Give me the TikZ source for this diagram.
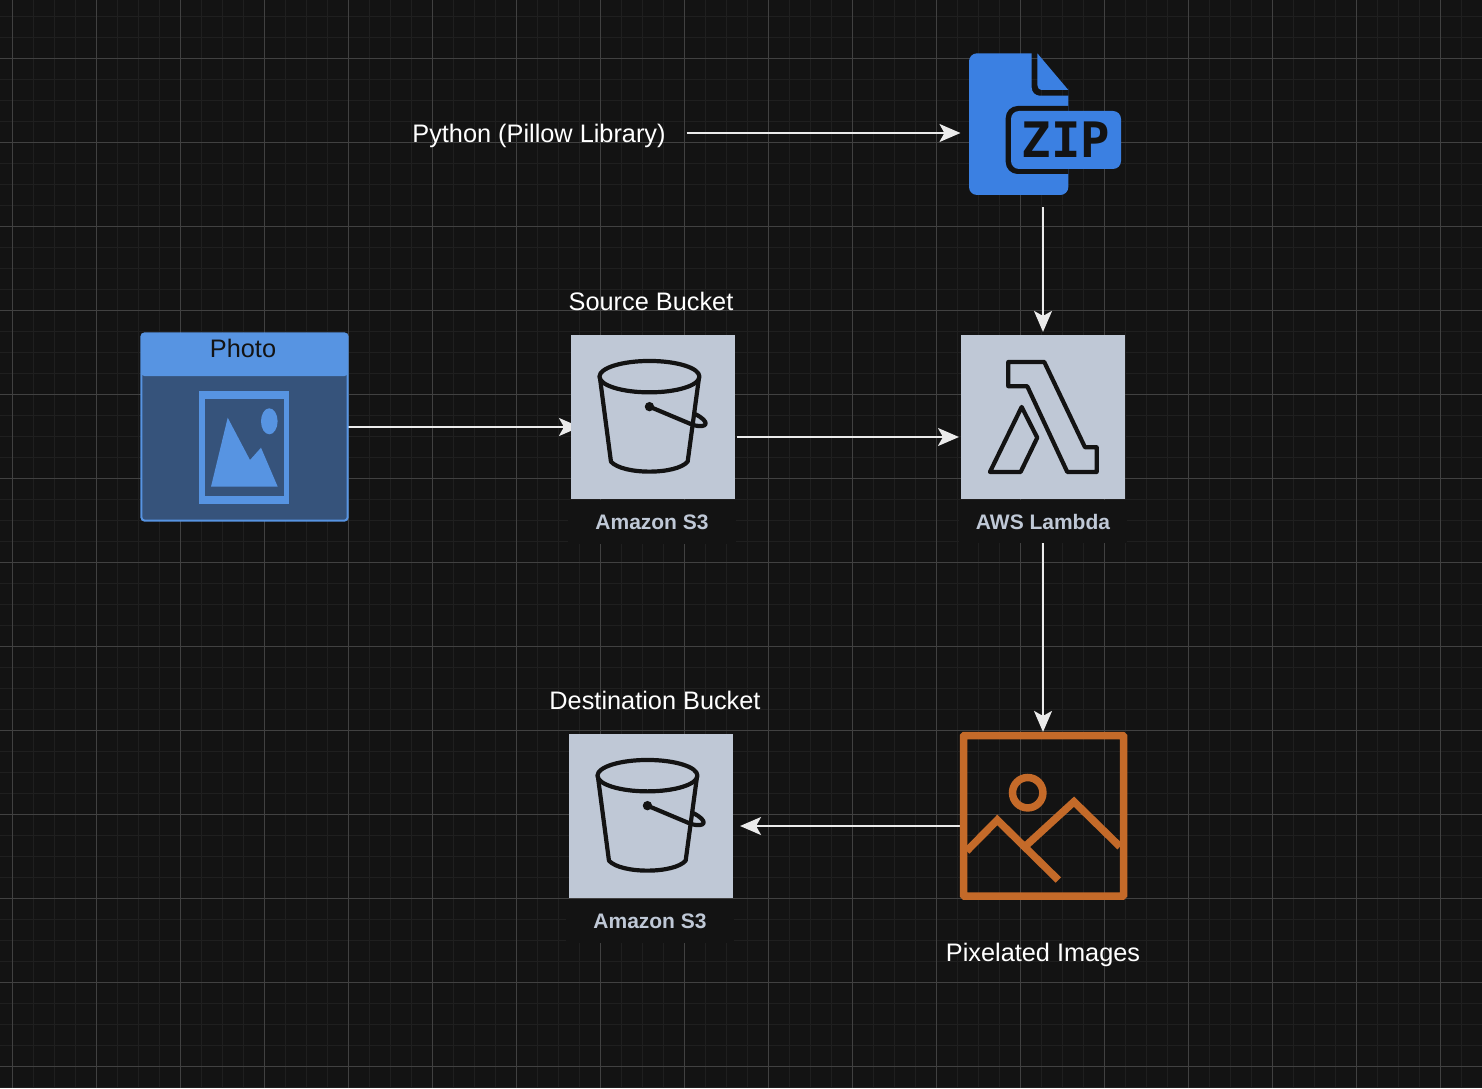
\documentclass[tikz,border=0pt]{standalone}
\usepackage{fontspec}
\setmainfont{Liberation Sans}
\newfontfamily\zipfont{DejaVu Sans Mono}
\usetikzlibrary{arrows.meta,backgrounds}
\definecolor{canvas}{HTML}{131313}
\definecolor{gridminor}{HTML}{1F1F1F}
\definecolor{gridmajor}{HTML}{414141}
\definecolor{awsgrey}{HTML}{BFC8D6}
\definecolor{zipblue}{HTML}{3B80E2}
\definecolor{photoblue}{HTML}{5794E2}
\definecolor{photodark}{HTML}{36537B}
\definecolor{pixorange}{HTML}{C46A29}
\newcommand{\DrawBucket}[1]{%
    \begin{scope}[shift={(#1)}, line width=0.042cm, draw=canvas, line join=round]
        \draw (78.5,41.7) ellipse [x radius=50, y radius=15.7];
        \draw (29,43) -- (40,126.7) .. controls (52,140) and (105,140) .. (116.7,126.7) -- (128,43);
        \fill[canvas] (78.5,71.7) circle [radius=4.7];
        \draw (78.5,71.7) -- (122,90) .. controls (137,94) and (140,87) .. (124,79);
    \end{scope}}

\begin{document}
\begin{tikzpicture}[x=0.01cm, y=-0.01cm,
    iconbox/.style={rectangle, fill=awsgrey, minimum width=1.64cm, minimum height=1.64cm, inner sep=0pt, outer sep=0pt},
    sublabel/.style={rectangle, fill=canvas, minimum width=1.68cm, minimum height=0.43cm, inner sep=0pt, outer sep=0pt, text=awsgrey, font=\fontsize{5.97}{7}\selectfont\bfseries},
    caption/.style={inner sep=0pt, outer sep=0pt, text=white, font=\fontsize{7.2}{9}\selectfont},
    ghost/.style={rectangle, inner sep=0pt, outer sep=0pt},
    arrow/.style={-{Stealth[length=0.21cm, width=0.18cm, inset=0.05cm]}, draw=white!92!black, line width=0.02cm}]

    \useasboundingbox (0,0) rectangle (1482,1088);

    % Grid
    \begin{scope}[on background layer]
        \fill[canvas] (0,0) rectangle (1482,1088);
        \foreach \gx in {0,...,70} {
            \draw[gridminor, line width=0.015cm] ({12.5+21*\gx},0) -- ({12.5+21*\gx},1088);
        }
        \foreach \gy in {0,...,51} {
            \draw[gridminor, line width=0.015cm] (0,{16.5+21*\gy}) -- (1482,{16.5+21*\gy});
        }
        \foreach \gx in {0,...,17} {
            \draw[gridmajor, line width=0.01cm] ({12.5+84*\gx},0) -- ({12.5+84*\gx},1088);
        }
        \foreach \gy in {0,...,12} {
            \draw[gridmajor, line width=0.01cm] (0,{58.5+84*\gy}) -- (1482,{58.5+84*\gy});
        }
    \end{scope}

    % Zip file
    \node[ghost, minimum width=1.53cm, minimum height=1.42cm] (zip) at (1045,124) {};
    \fill[zipblue] (1031.7,53.3) [rounded corners=0.08cm] -- (969,53.3) -- (969,195) -- (1068.3,195) -- (1068.3,95.7) [sharp corners] -- (1068.3,95.7) [rounded corners=0.08cm] -- (1031.7,95.7) [sharp corners] -- (1031.7,53.3) -- cycle;
    \fill[zipblue] (1037.3,53.3) -- (1068.3,90) -- (1043,90) .. controls (1039,90) and (1037.3,88) .. (1037.3,85) -- cycle;
    \fill[canvas, rounded corners=0.12cm] (1068.3,106) -- (1005.7,106) -- (1005.7,174) -- (1068.3,174);
    \fill[zipblue, rounded corners=0.08cm] (1011,111) rectangle (1121,169);
    \node[ghost, text=canvas, font=\fontsize{13.9}{15}\selectfont\zipfont\bfseries] (ziptext) at (1066,140) {ZIP};
    \node[caption] (python) at (539,136) {Python (Pillow Library)};

    % Photo
    \node[ghost, minimum width=2.06cm, minimum height=1.87cm] (photo) at (244.5,427) {};
    \draw[photoblue, fill=photodark, line width=0.02cm, rounded corners=0.03cm] (photo.north west) rectangle (photo.south east);
    \fill[photoblue, rounded corners=0.03cm] (photo.north west) -- (photo.north east) -- (photo.east |- 0,376) -- (photo.west |- 0,376) -- cycle;
    \node[caption, text=canvas] (phototitle) at (243,348) {Photo};
    \fill[photoblue] (199.3,391) rectangle (289,503.7);
    \fill[photodark] (205,399.3) rectangle (283.7,495.7);
    \fill[photoblue] (269.3,421.3) ellipse [x radius=8.3, y radius=13];
    \fill[photoblue] (211,486.7) -- (227.7,417.7) -- (250,460) -- (261,447.7) -- (277.7,486.7) -- cycle;

    % Source bucket
    \node[iconbox] (s3a) at (653,417) {};
    \DrawBucket{s3a.north west}
    \node[sublabel] (s3alabel) at (652,522) {Amazon S3};
    \node[caption] (s3acaption) at (651,301) {Source Bucket};

    % Lambda
    \node[iconbox] (lambda) at (1043,417) {};
    \begin{scope}[shift={(lambda.north west)}, draw=canvas, line width=0.042cm, line join=round]
        \draw (47.3,27) -- (83.3,27) -- (124,112.3) -- (135.7,112.3) -- (135.7,137) -- (106.3,137) -- (66.3,51.3) -- (47.3,51.3) -- cycle;
        \draw (60.7,72) -- (76.3,102.7) -- (59.7,137) -- (29,137) -- cycle;
    \end{scope}
    \node[sublabel] (lambdalabel) at (1043,521.5) {AWS Lambda};

    % Destination bucket
    \node[iconbox] (s3b) at (651,816) {};
    \DrawBucket{s3b.north west}
    \node[sublabel] (s3blabel) at (650,921) {Amazon S3};
    \node[caption] (s3bcaption) at (655,700) {Destination Bucket};

    % Pixelated images
    \node[ghost, minimum width=1.67cm, minimum height=1.68cm] (pix) at (1043.5,816) {};
    \begin{scope}[draw=pixorange, line width=0.075cm]
        \draw[rounded corners=0.01cm] (963.5,735.5) rectangle (1123.5,896);
        \draw (1027.7,792.7) circle [radius=15.2];
        \draw (966.7,851) -- (997.3,820) -- (1058.3,880);
        \draw (1026.7,845) -- (1074,801.7) -- (1120,846.7);
    \end{scope}
    \node[caption] (pixcaption) at (1043,955) {Pixelated Images};

    % Arrows
    \begin{scope}[on background layer]
        \draw[arrow, shorten <=0.21cm, shorten >=0.08cm] ([yshift=0.03cm]python.east) -- ([yshift=0.03cm]python.east -| zip.west);
        \draw[arrow, shorten <=0.12cm, shorten >=0.03cm] (lambda.north |- zip.south) -- (lambda.north);
        \draw[arrow, shorten >=-0.09cm] (photo.east) -- (photo.east -| s3a.west);
        \draw[arrow, shorten <=0.02cm, shorten >=0.02cm] ([yshift=-0.2cm]s3a.east) -- ([yshift=-0.2cm]lambda.west);
        \draw[arrow] (lambdalabel.south) -- (lambdalabel.south |- pix.north);
        \draw[arrow, shorten >=0.07cm] ([yshift=-0.1cm]pix.west) -- ([yshift=-0.1cm]s3b.east);
    \end{scope}

\end{tikzpicture}
\end{document}
